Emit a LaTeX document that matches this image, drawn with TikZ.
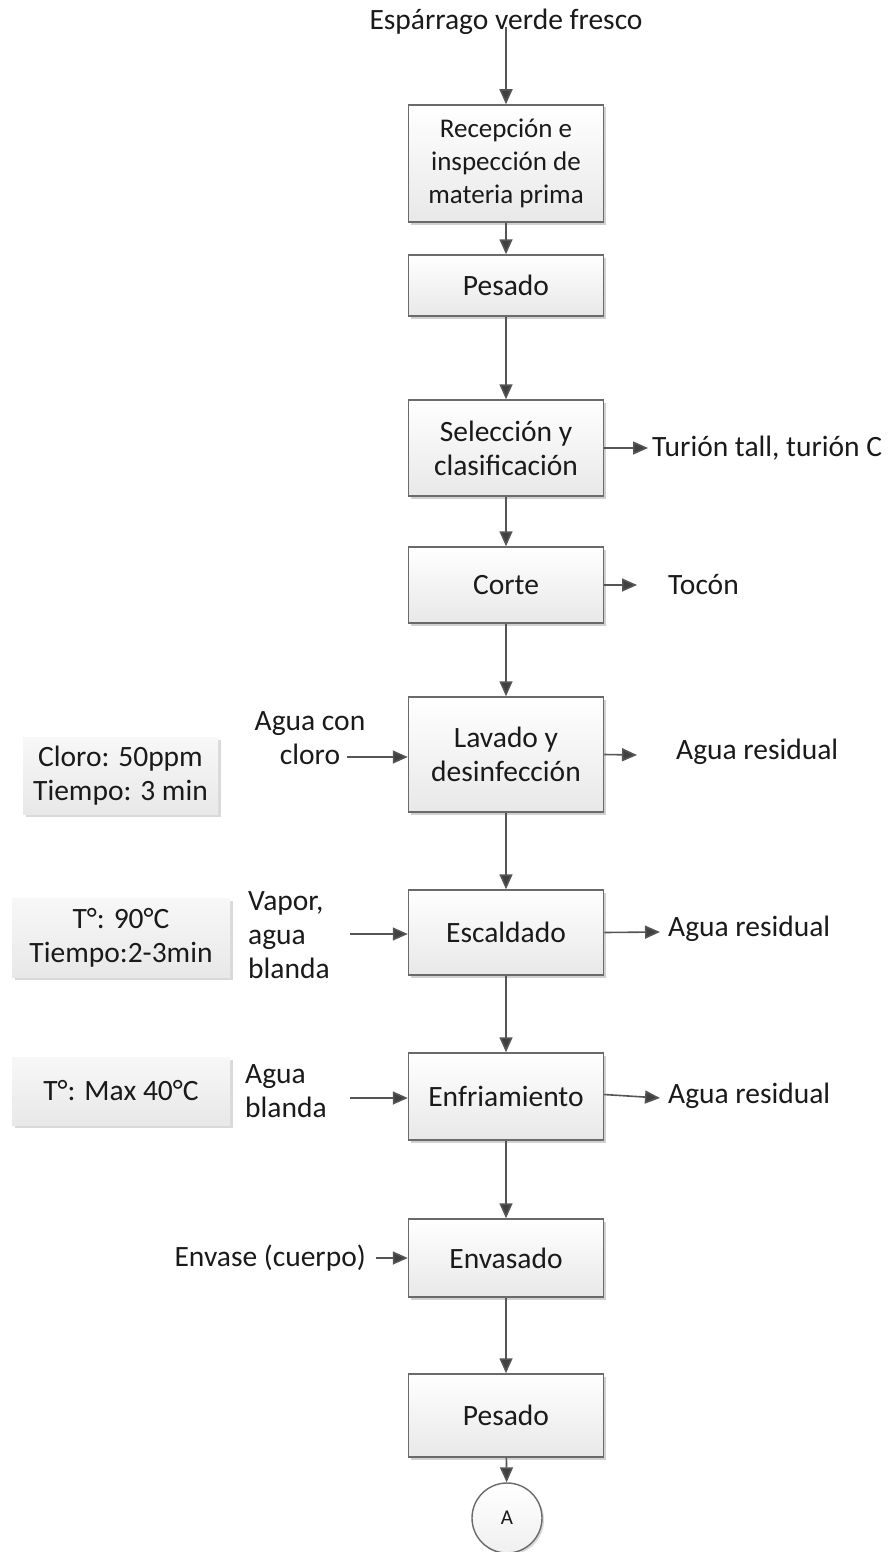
\documentclass[tikz,border=0pt]{standalone}
\usepackage{fontspec}
\setmainfont{Carlito}
\usetikzlibrary{arrows.meta,shadows}
\definecolor{linegray}{HTML}{555555}
\definecolor{tipgray}{HTML}{404040}
\definecolor{ink}{HTML}{1A1A1A}
\definecolor{framegray}{HTML}{6A6A6A}
\begin{document}
\begin{tikzpicture}[x=1pt,y=-1pt,
  every node/.style={text=ink, font=\fontsize{29.5}{34}\selectfont},
  proc/.style={rectangle, draw=framegray, line width=1.5pt,
    top color=white, bottom color=black!9, minimum width=195pt,
    inner sep=0pt, align=center,
    drop shadow={shadow xshift=2.5pt, shadow yshift=-2.5pt, opacity=0.18, fill=black}},
  note/.style={rectangle, draw=none, top color=black!3, bottom color=black!9,
    inner sep=0pt, align=center,
    drop shadow={shadow xshift=2.5pt, shadow yshift=-2.5pt, opacity=0.15, fill=black}},
  lbl/.style={inner sep=0pt, align=center},
  flow/.style={draw=linegray, line width=1.6pt,
    -{Triangle[length=15pt,width=13pt,fill=tipgray]}},
]
\useasboundingbox (0,0) rectangle (894,1552);

% main process column
\node[lbl] (src) at (506,22) {Espárrago verde fresco};
\coordinate (srcfoot) at (506,27);
\node[proc, minimum height=117pt, font=\fontsize{27}{33}\selectfont] (b1) at (506,163.5) {Recepción e\\inspección de\\materia prima};
\node[proc, minimum height=61pt] (b2) at (506,285.5) {Pesado};
\node[proc, minimum height=96pt] (b3) at (506,448) {Selección y\\clasificación};
\node[proc, minimum height=76pt] (b4) at (506,585) {Corte};
\node[proc, minimum height=115pt] (b5) at (506,754.5) {Lavado y\\desinfección};
\node[proc, minimum height=85pt] (b6) at (506,932.5) {Escaldado};
\node[proc, minimum height=87pt] (b7) at (506,1096.5) {Enfriamiento};
\node[proc, minimum height=78pt] (b8) at (506,1258) {Envasado};
\node[proc, minimum height=83pt] (b9) at (506,1415.5) {Pesado};
\node[circle, draw=framegray, line width=1.4pt, top color=white, bottom color=black!6,
  minimum size=70pt, inner sep=0pt, font=\fontsize{21}{23}\selectfont,
  drop shadow={shadow xshift=2pt, shadow yshift=-2pt, opacity=0.15, fill=black}] (A) at (507,1518) {A};

\draw[flow] (srcfoot) -- (b1.north);
\draw[flow] (b1) -- (b2);
\draw[flow] (b2) -- (b3);
\draw[flow] (b3) -- (b4);
\draw[flow] (b4) -- (b5);
\draw[flow] (b5) -- (b6);
\draw[flow] (b6) -- (b7);
\draw[flow] (b7) -- (b8);
\draw[flow] (b8) -- (b9);
\draw[flow] (b9) -- (A);

% outputs on the right
\node[lbl, anchor=west] (tur) at (652,448) {Turión tall, turión C};
\node[lbl, anchor=west] (toc) at (668,585) {Tocón};
\node[lbl, anchor=west] (ar1) at (676,752) {Agua residual};
\node[lbl, anchor=west] (ar2) at (668,929) {Agua residual};
\node[lbl, anchor=west] (ar3) at (668,1096) {Agua residual};
\coordinate (turend) at (648,448);
\coordinate (tocend) at (637,585);
\coordinate (ar1end) at (637,755);
\coordinate (ar2end) at (660,932);
\coordinate (ar3end) at (660,1098);
\draw[flow] (b3.east) -- (turend);
\draw[flow] (b4.east) -- (tocend);
\draw[flow] (b5.east) -- (ar1end);
\draw[flow] (b6.east) -- (ar2end);
\draw[flow] ([yshift=2pt]b7.east) -- (ar3end);

% inputs on the left
\node[lbl] (agc) at (310,738) {Agua con\\cloro};
\node[lbl, align=left, anchor=west] (vap) at (248,935) {Vapor,\\agua\\blanda};
\node[lbl, align=left, anchor=west] (agb) at (245,1091) {Agua\\blanda};
\node[lbl, anchor=east] (env) at (366,1258) {Envase (cuerpo)};
\coordinate (agcstart) at (347,757);
\coordinate (vapstart) at (350,934);
\coordinate (agbstart) at (350,1098);
\coordinate (envstart) at (376,1258);
\draw[flow] (agcstart) -- (b5.west |- agcstart);
\draw[flow] (vapstart) -- (b6.west |- vapstart);
\draw[flow] (agbstart) -- (b7.west |- agbstart);
\draw[flow] (envstart) -- (b8.west);

% process conditions
\node[note, minimum width=195pt, minimum height=77pt] (n1) at (120.5,775.5) {Cloro: 50ppm\\Tiempo: 3 min};
\node[note, minimum width=218pt, minimum height=79pt] (n2) at (121,937.5) {T°: 90°C\\Tiempo:2-3min};
\node[note, minimum width=218pt, minimum height=68pt] (n3) at (121,1091) {T°: Max 40°C};
\end{tikzpicture}
\end{document}
